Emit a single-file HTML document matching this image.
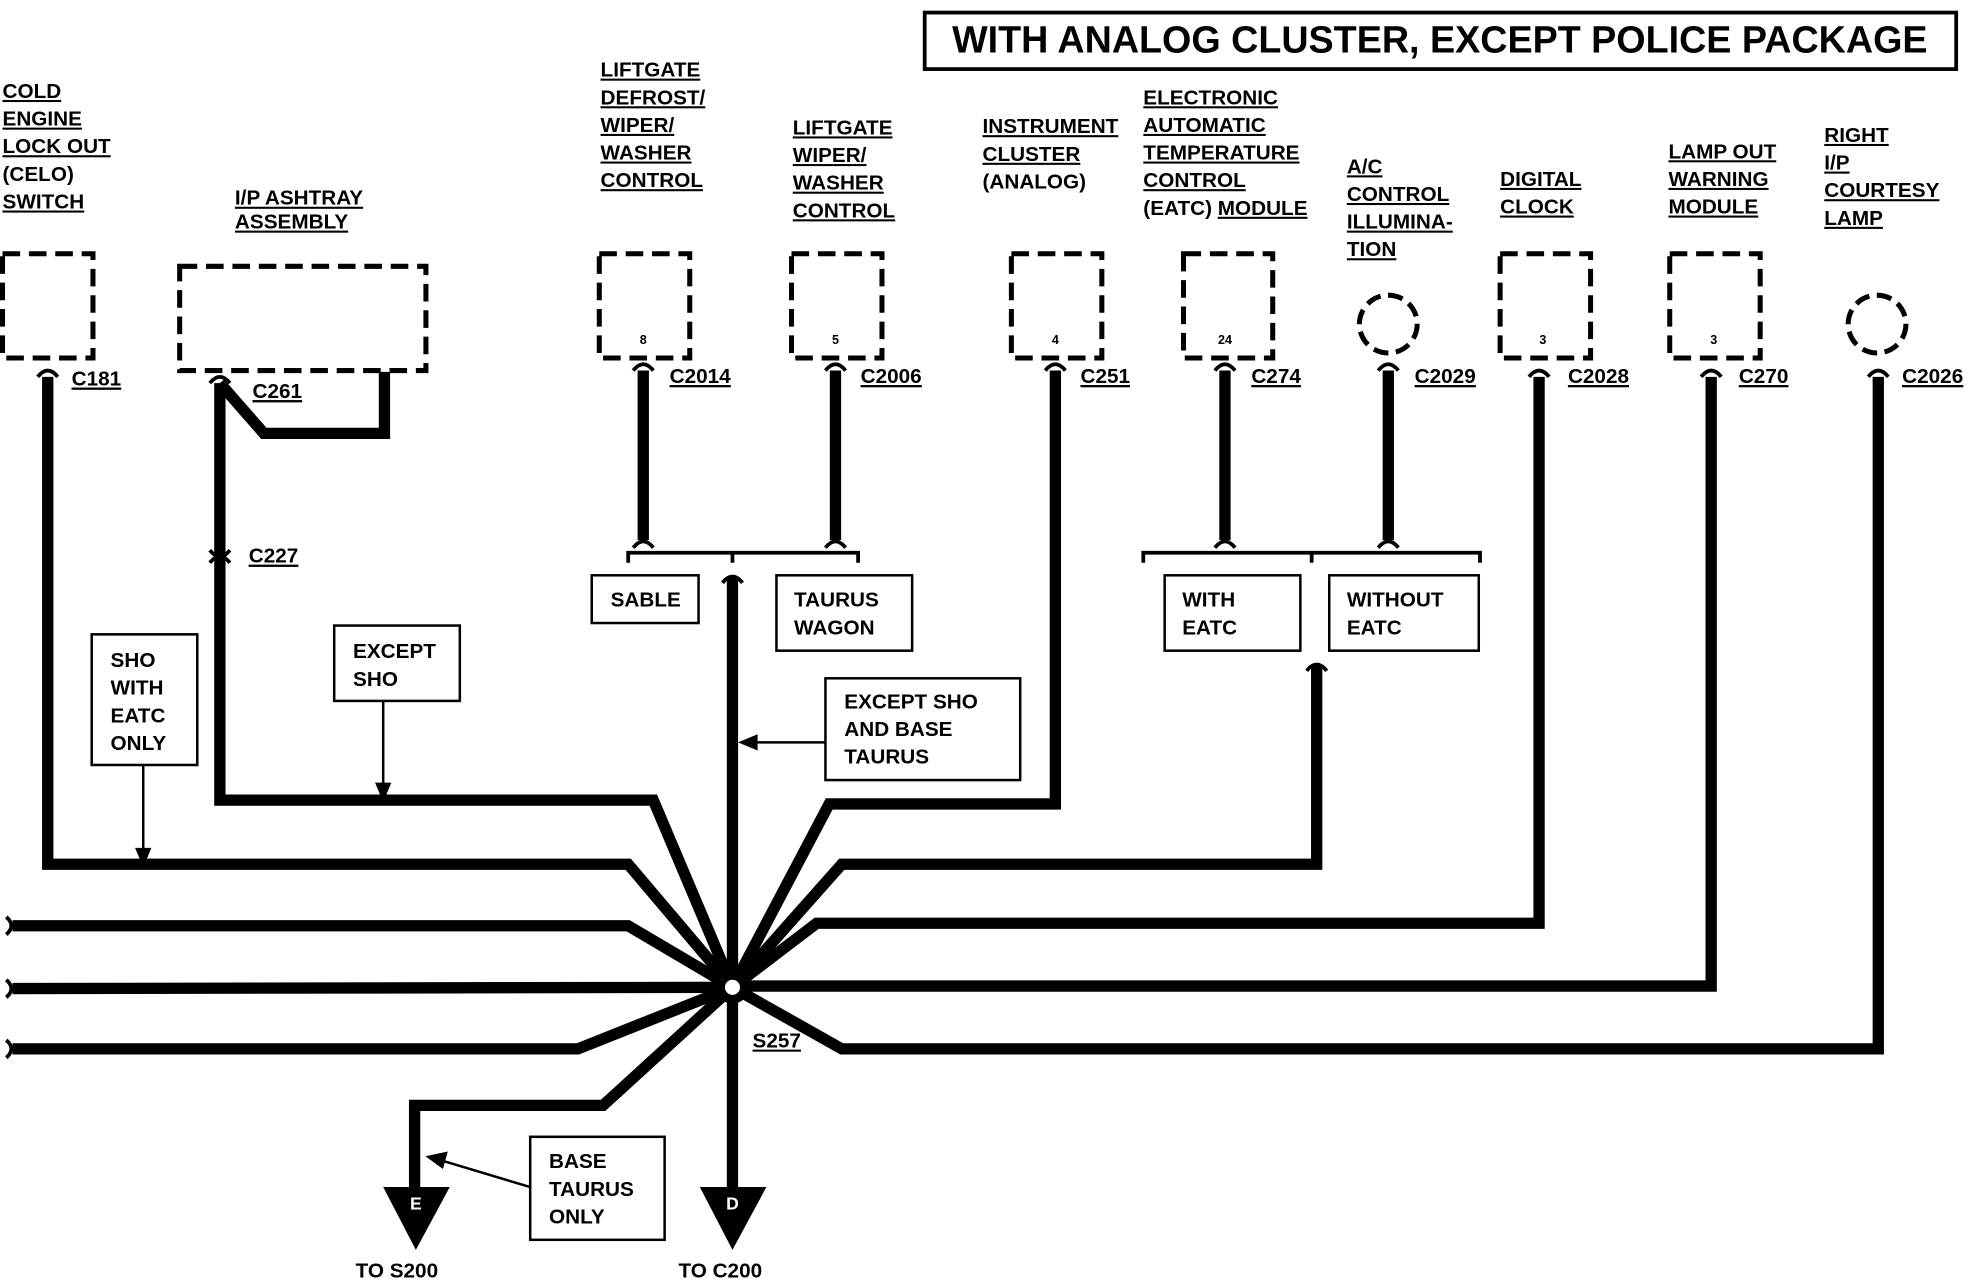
<!DOCTYPE html>
<html><head><meta charset="utf-8"><style>
html,body{margin:0;padding:0;background:#fff;}
svg{display:block;}
text{font-family:"Liberation Sans",Arial,sans-serif;font-weight:bold;font-size:16.5px;fill:#000;}
.u{text-decoration:underline;}
</style></head><body>
<svg width="1970" height="1280" viewBox="0 0 1568 1019" preserveAspectRatio="none" xmlns="http://www.w3.org/2000/svg">
<rect width="1568" height="1019" fill="#fff"/>
<!-- title -->
<rect x="736" y="10" width="821" height="45" fill="none" stroke="#000" stroke-width="3"/>
<text x="1146" y="42" text-anchor="middle" style="font-size:30px">WITH ANALOG CLUSTER, EXCEPT POLICE PACKAGE</text>

<!-- dashed connectors -->
<g fill="none" stroke="#000" stroke-width="4" stroke-dasharray="14,7">
<rect x="2" y="202" width="72" height="83"/>
<rect x="143" y="212" width="196" height="83"/>
<rect x="477" y="202" width="72" height="83"/>
<rect x="630" y="202" width="72" height="83"/>
<rect x="805" y="202" width="72" height="83"/>
<rect x="942" y="202" width="71" height="83"/>
<rect x="1194" y="202" width="72" height="83"/>
<rect x="1329" y="202" width="72" height="83"/>
<circle cx="1105" cy="258" r="23" stroke-dasharray="12,6"/>
<circle cx="1494" cy="258" r="23" stroke-dasharray="12,6"/>
</g>
<g style="font-size:10px">
<text x="512" y="274" text-anchor="middle" style="font-size:10px">8</text>
<text x="665" y="274" text-anchor="middle" style="font-size:10px">5</text>
<text x="840" y="274" text-anchor="middle" style="font-size:10px">4</text>
<text x="975" y="274" text-anchor="middle" style="font-size:10px">24</text>
<text x="1228" y="274" text-anchor="middle" style="font-size:10px">3</text>
<text x="1364" y="274" text-anchor="middle" style="font-size:10px">3</text>
</g>

<!-- wires -->
<g fill="none" stroke="#000" stroke-width="9" stroke-linejoin="miter">
<polyline points="38,300 38,688 500,688 583,786"/>
<polyline points="175,305 175,637 520,637 583,786"/>
<polyline points="175,305 210,345 306,345 306,296"/>
<polyline points="583,460 583,945"/>
<polyline points="512,295 512,430"/>
<polyline points="665,295 665,430"/>
<polyline points="840,295 840,640 660,640 583,786"/>
<polyline points="975,295 975,430"/>
<polyline points="1105,295 1105,430"/>
<polyline points="1048,530 1048,688 670,688 583,786"/>
<polyline points="1225,300 1225,735 650,735 583,786"/>
<polyline points="1362,300 1362,785 583,785"/>
<polyline points="1495,300 1495,835 670,835 583,786"/>
<polyline points="10,737 500,737 583,786"/>
<polyline points="10,787 583,786"/>
<polyline points="10,835 460,835 583,786"/>
<polyline points="583,786 480,880 330,880 330,945"/>
</g>
<!-- connector pin hooks -->
<g fill="none" stroke="#000" stroke-width="3">
<path d="M30,300 q8,-10 16,0"/><path d="M167,305 q8,-10 16,0"/>
<path d="M504,295 q8,-10 16,0"/><path d="M657,295 q8,-10 16,0"/>
<path d="M832,295 q8,-10 16,0"/><path d="M967,295 q8,-10 16,0"/>
<path d="M1097,295 q8,-10 16,0"/><path d="M1217,300 q8,-10 16,0"/>
<path d="M1354,300 q8,-10 16,0"/><path d="M1487,300 q8,-10 16,0"/>
<path d="M167,438 q8,10 16,0 M167,448 q8,-10 16,0"/>
<path d="M504,436 q8,-10 16,0"/><path d="M657,436 q8,-10 16,0"/>
<path d="M967,436 q8,-10 16,0"/><path d="M1097,436 q8,-10 16,0"/>
<path d="M575,464 q8,-10 16,0"/><path d="M1040,534 q8,-10 16,0"/>
<path d="M5,730 q8,7 0,14 M5,780 q8,7 0,14 M5,828 q8,7 0,14"/>
<!-- brackets -->
<path d="M500,448 v-8 h183 v8 M583,440 v8"/>
<path d="M910,448 v-8 h268 v8 M1044,440 v8"/>
</g>
<!-- splice -->
<circle cx="583" cy="786" r="13" fill="#000"/>
<circle cx="583" cy="786" r="6" fill="#fff"/>
<text x="599" y="834" class="u">S257</text>
<!-- arrows -->
<polygon points="305,945 358,945 331,995" fill="#000"/>
<polygon points="557,945 610,945 583,995" fill="#000"/>
<text x="331" y="963" text-anchor="middle" style="fill:#fff;font-size:14px">E</text>
<text x="583" y="963" text-anchor="middle" style="fill:#fff;font-size:14px">D</text>
<text x="283" y="1017">TO S200</text>
<text x="540" y="1017">TO  C200</text>

<!-- label boxes -->
<g fill="#fff" stroke="#000" stroke-width="2">
<rect x="471" y="458" width="85" height="38"/>
<rect x="618" y="458" width="108" height="60"/>
<rect x="927" y="458" width="108" height="60"/>
<rect x="1058" y="458" width="119" height="60"/>
<rect x="73" y="505" width="84" height="104"/>
<rect x="266" y="498" width="100" height="60"/>
<rect x="657" y="540" width="155" height="81"/>
<rect x="422" y="905" width="107" height="82"/>
</g>
<text x="486" y="483">SABLE</text>
<text x="632" y="483">TAURUS</text><text x="632" y="505">WAGON</text>
<text x="941" y="483">WITH</text><text x="941" y="505">EATC</text>
<text x="1072" y="483">WITHOUT</text><text x="1072" y="505">EATC</text>
<text x="88" y="531">SHO</text><text x="88" y="553">WITH</text><text x="88" y="575">EATC</text><text x="88" y="597">ONLY</text>
<text x="281" y="524">EXCEPT</text><text x="281" y="546">SHO</text>
<text x="672" y="564">EXCEPT SHO</text><text x="672" y="586">AND BASE</text><text x="672" y="608">TAURUS</text>
<text x="437" y="930">BASE</text><text x="437" y="952">TAURUS</text><text x="437" y="974">ONLY</text>
<!-- thin arrows -->
<g stroke="#000" stroke-width="2" fill="#000">
<line x1="114" y1="609" x2="114" y2="678"/><polygon points="109,676 119,676 114,688"/>
<line x1="305" y1="558" x2="305" y2="626"/><polygon points="300,624 310,624 305,636"/>
<line x1="657" y1="591" x2="600" y2="591"/><polygon points="602,586 602,596 590,591"/>
<line x1="422" y1="945" x2="352" y2="924"/><polygon points="355,918 352,929 341,921"/>
</g>

<!-- connector names -->
<g class="u">
<text x="57" y="307" class="u">C181</text>
<text x="201" y="317" class="u">C261</text>
<text x="198" y="448" class="u">C227</text>
<text x="533" y="305" class="u">C2014</text>
<text x="685" y="305" class="u">C2006</text>
<text x="860" y="305" class="u">C251</text>
<text x="996" y="305" class="u">C274</text>
<text x="1126" y="305" class="u">C2029</text>
<text x="1248" y="305" class="u">C2028</text>
<text x="1384" y="305" class="u">C270</text>
<text x="1514" y="305" class="u">C2026</text>
</g>
<!-- top labels -->
<text x="2" y="78" class="u">COLD</text><text x="2" y="100" class="u">ENGINE</text><text x="2" y="122" class="u">LOCK OUT</text><text x="2" y="144">(CELO)</text><text x="2" y="166" class="u">SWITCH</text>
<text x="187" y="163" class="u">I/P ASHTRAY</text><text x="187" y="182" class="u">ASSEMBLY</text>
<text x="478" y="61" class="u">LIFTGATE</text><text x="478" y="83" class="u">DEFROST/</text><text x="478" y="105" class="u">WIPER/</text><text x="478" y="127" class="u">WASHER</text><text x="478" y="149" class="u">CONTROL</text>
<text x="631" y="107" class="u">LIFTGATE</text><text x="631" y="129" class="u">WIPER/</text><text x="631" y="151" class="u">WASHER</text><text x="631" y="173" class="u">CONTROL</text>
<text x="782" y="106" class="u">INSTRUMENT</text><text x="782" y="128" class="u">CLUSTER</text><text x="782" y="150">(ANALOG)</text>
<text x="910" y="83" class="u">ELECTRONIC</text><text x="910" y="105" class="u">AUTOMATIC</text><text x="910" y="127" class="u">TEMPERATURE</text><text x="910" y="149" class="u">CONTROL</text><text x="910" y="171">(EATC) <tspan class="u">MODULE</tspan></text>
<text x="1072" y="138" class="u">A/C</text><text x="1072" y="160" class="u">CONTROL</text><text x="1072" y="182" class="u">ILLUMINA-</text><text x="1072" y="204" class="u">TION</text>
<text x="1194" y="148" class="u">DIGITAL</text><text x="1194" y="170" class="u">CLOCK</text>
<text x="1328" y="126" class="u">LAMP OUT</text><text x="1328" y="148" class="u">WARNING</text><text x="1328" y="170" class="u">MODULE</text>
<text x="1452" y="113" class="u">RIGHT</text><text x="1452" y="135" class="u">I/P</text><text x="1452" y="157" class="u">COURTESY</text><text x="1452" y="179" class="u">LAMP</text>
</svg>
</body></html>
